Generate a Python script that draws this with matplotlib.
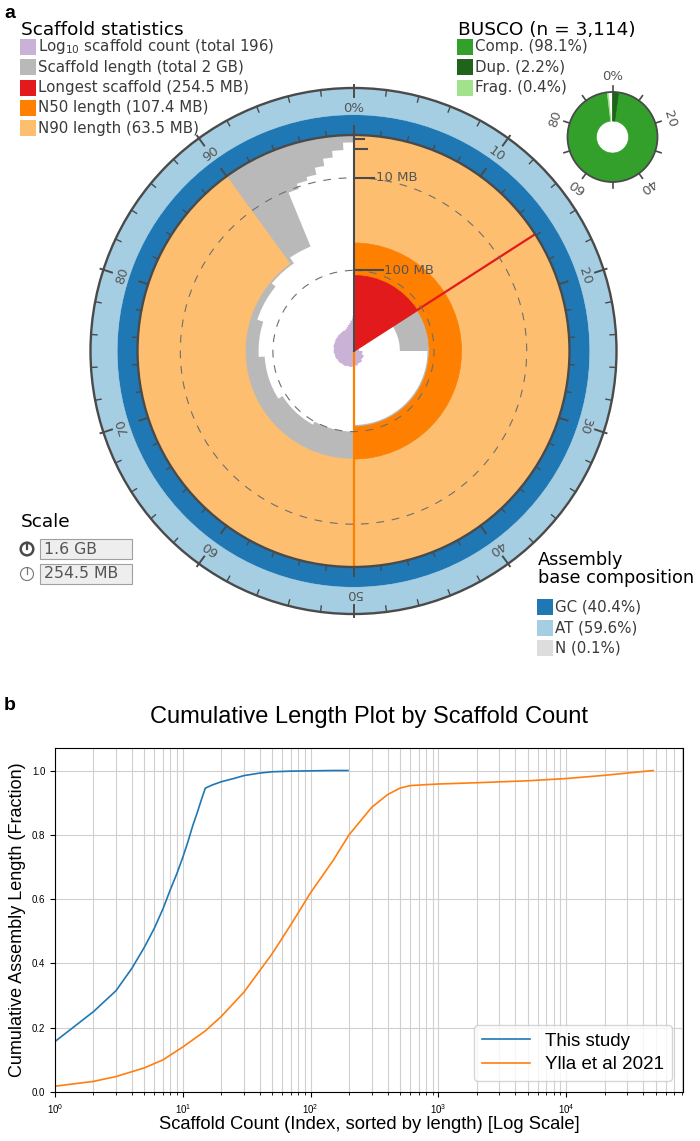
import numpy as np
import matplotlib
matplotlib.use('Agg')
import matplotlib.pyplot as plt
from matplotlib.patches import Wedge, Circle, Rectangle, Polygon

#DATA - panel a (snail plot)
spanGb = 1.6
scaffoldCount = 196
longestMb = 254.5
n50Mb = 107.4
n90Mb = 63.5
gcPct = 40.4
atPct = 59.6
nPct = 0.1

# sorted scaffold lengths round the circle: step start (% of assembly) and length (MB)
lenStepPct = [0, 15.9, 25.0, 50.0, 58.0, 66.0, 74.0, 80.0, 86.0, 90.5, 93.8, 94.8, 95.8, 96.7, 97.5, 98.3, 99.2]
lenStepMb = [254.5, 157.0, 110.0, 100.0, 95.0, 88.0, 80.0, 72.0, 66.0, 58.0, 11.0, 8.5, 7.0, 4.5, 2.5, 1.2, 0.3]

axisTickMb = [100, 10, 1, 0.1]
axisTickLabels = ['100 MB', '10 MB', '', '']
ringTicks = [0, 10, 20, 30, 40, 50, 60, 70, 80, 90]

buscoN = 3114
buscoComp = 98.1
buscoDup = 2.2
buscoFrag = 0.4

#DATA - panel b (cumulative length)
thisN = [1, 2, 3, 4, 5, 6, 7, 8, 9, 10, 11, 12, 13, 14, 15, 17, 20, 25, 30, 40, 50, 70, 100, 150, 196]
thisFrac = [0.157, 0.25, 0.315, 0.385, 0.45, 0.51, 0.57, 0.63, 0.68, 0.73, 0.78, 0.83, 0.87, 0.91, 0.945,
            0.955, 0.965, 0.975, 0.984, 0.992, 0.996, 0.998, 0.999, 1.0, 1.0]
yllaN = [1, 2, 3, 5, 7, 10, 15, 20, 30, 50, 70, 100, 150, 200, 300, 400, 500, 600, 800, 1000,
         2000, 5000, 10000, 20000, 30000, 47877]
yllaFrac = [0.018, 0.033, 0.048, 0.075, 0.10, 0.14, 0.19, 0.235, 0.31, 0.43, 0.52, 0.62, 0.72, 0.80,
            0.885, 0.925, 0.945, 0.953, 0.956, 0.958, 0.962, 0.968, 0.975, 0.985, 0.992, 1.0]

#COLOURS
cGray = '#b9b9b9'
cRed = '#e31a1c'
cN50 = '#ff7f00'
cN90 = '#fdbf6f'
cCount = '#cab2d6'
cGC = '#1f78b4'
cAT = '#a6cee3'
cN = '#dddddd'
cComp = '#33a02c'
cDup = '#20641c'
cFrag = '#a3e28c'
cLine = '#4a4a4a'
cText = '#555555'

plt.rcParams['font.family'] = ['DejaVu Sans']

W, H = 700, 1141
fig = plt.figure(figsize=(W / 100, H / 100), dpi=100)

# pixel frame for panel a (y grows downwards)
ax = fig.add_axes([0, 0, 1, 1])
ax.set_xlim(0, W)
ax.set_ylim(H, 0)
ax.axis('off')

CX, CY = 353.5, 351.0
R_IN, R_OUT = 216.0, 263.0


def rho(mb):
	# inverted sqrt radial scale, longest scaffold at the centre
	return R_IN * (1 - np.sqrt(mb / longestMb))


def ang(p):
	# percent -> wedge angle (clockwise from top, y axis inverted)
	return 3.6 * p - 90


def pt(p, r, cx=CX, cy=CY):
	a = np.radians(3.6 * p)
	return cx + r * np.sin(a), cy - r * np.cos(a)


def wedge(r, p1, p2, color, width=None, z=2, cx=CX, cy=CY):
	w = Wedge((cx, cy), r, ang(p1), ang(p2), width=width, fc=color, ec=color, lw=0.4, zorder=z)
	ax.add_patch(w)


def stepPoly(starts, ends, radii, color, z):
	# one polygon for a stepped radial profile (no seams between steps)
	pts = [(CX, CY)]
	for p1, p2, r in zip(starts, ends, radii):
		for p in np.linspace(p1, p2, int((p2 - p1) * 3) + 2):
			pts.append(pt(p, r))
	pts.append((CX, CY))
	ax.add_patch(Polygon(pts, closed=True, fc=color, ec='none', zorder=z))


# scaffold length background and white interior
wedge(R_IN, 0, 100, cGray, z=1)
stepEnds = lenStepPct[1:] + [100]
stepPoly(lenStepPct, stepEnds, [rho(v) for v in lenStepMb], 'white', 2)

# N90 / N50 / longest
longPct = 100 * longestMb / (spanGb * 1000)
wedge(R_IN, 0, 90, cN90, width=R_IN - rho(n90Mb), z=3)
wedge(rho(n90Mb), 0, 50, cN50, width=rho(n90Mb) - rho(n50Mb), z=3)

# log10 scaffold count spiral
cntStart = [0] + [100 * f for f in thisFrac[:-1]]
cntEnd = [100 * f for f in thisFrac]
stepPoly(cntStart, cntEnd, [19 * np.log10(n) for n in thisN], cCount, 4)

wedge(rho(n50Mb), 0, longPct, cRed, z=5)

# radial marker lines
for p, c in [(longPct, cRed), (50, cN50)]:
	x0, y0 = pt(p, 0)
	x1, y1 = pt(p, R_IN)
	ax.plot([x0, x1], [y0, y1], color=c, lw=1.6, zorder=6, solid_capstyle='butt')

# dashed length gridlines
for mb in [10, 100]:
	ax.add_patch(Circle((CX, CY), rho(mb), fill=False, ec='#6e6e6e', lw=0.8,
	                    ls=(0, (7, 7)), zorder=7))

# composition ring
gcW = (R_OUT - R_IN) * gcPct / 100
atW = (R_OUT - R_IN) * atPct / 100
wedge(R_IN + gcW + 1.5, 0, 100, cGC, width=gcW + 1.5, z=3)
wedge(R_OUT, 0, 100, cAT, width=atW - 1.3, z=3)

for r in [R_IN, R_OUT]:
	ax.add_patch(Circle((CX, CY), r, fill=False, ec=cLine, lw=1.7, zorder=8))

# ring ticks every 2 %, major every 10 %
for p in np.arange(0, 100, 2):
	major = p % 10 == 0
	a0, a1 = (R_OUT - 9, R_OUT + 3) if major else (R_OUT - 6, R_OUT)
	x0, y0 = pt(p, a0)
	x1, y1 = pt(p, a1)
	ax.plot([x0, x1], [y0, y1], color=cLine, lw=1.4 if major else 1.0, zorder=8)
	b1 = R_IN + 9 if major else R_IN + 5
	x0, y0 = pt(p, R_IN)
	x1, y1 = pt(p, b1)
	ax.plot([x0, x1], [y0, y1], color=cLine, lw=1.4 if major else 1.0, zorder=8)

for p in ringTicks:
	x, y = pt(p, 243)
	ax.text(x, y, '0%' if p == 0 else str(p), rotation=-3.6 * p, ha='center', va='center',
	        fontsize=9.5, color=cText, zorder=9, rotation_mode='anchor')

# length axis along 0 %
ax.plot([CX, CX], [CY, CY - R_IN], color=cLine, lw=1.5, zorder=9)
tickLen = {100: 29, 10: 20, 1: 13, 0.1: 10}
for mb, lab in zip(axisTickMb, axisTickLabels):
	y = CY - rho(mb)
	ax.plot([CX, CX + tickLen[mb]], [y, y], color=cLine, lw=1.5, zorder=9)
	if lab:
		ax.text(CX + tickLen[mb] + 2, y, lab, ha='left', va='center', fontsize=9.5, color=cText, zorder=9)

# BUSCO ring
BX, BY, BR, BH = 612.5, 137.0, 45.0, 16.0
wedge(BR, 0, buscoComp, cComp, width=BR - BH, cx=BX, cy=BY)
wedge(BR, 0, buscoDup, cDup, width=BR - BH, z=3, cx=BX, cy=BY)
wedge(BR, buscoComp, buscoComp + buscoFrag, cFrag, width=BR - BH, z=3, cx=BX, cy=BY)
ax.add_patch(Circle((BX, BY), BR, fill=False, ec=cLine, lw=1.3, zorder=8))
for p in range(0, 100, 10):
	x0, y0 = pt(p, BR, BX, BY)
	x1, y1 = pt(p, BR + 6, BX, BY)
	ax.plot([x0, x1], [y0, y1], color=cLine, lw=1.2, zorder=8)
for p in [0, 20, 40, 60, 80]:
	x, y = pt(p, 60, BX, BY)
	ax.text(x, y, '0%' if p == 0 else str(p), rotation=-3.6 * p, ha='center', va='center',
	        fontsize=9.5, color=cText, rotation_mode='anchor')

# legends
def legendBlock(x, y, title, entries, step=20.3, titleLines=1, titleSize=13.3):
	ax.text(x + 1, y, title, ha='left', va='center', fontsize=titleSize, color='black', linespacing=1.05)
	y0 = y + 17 + (titleLines - 1) * 21
	for i, (lab, col) in enumerate(entries):
		yy = y0 + i * step
		ax.add_patch(Rectangle((x, yy - 8), 16, 16, fc=col, ec='none'))
		ax.text(x + 18, yy, lab, ha='left', va='center', fontsize=10.8, color='#3a3a3a')

legendBlock(20, 30, 'Scaffold statistics', [
	('Log$_{10}$ scaffold count (total %d)' % scaffoldCount, cCount),
	('Scaffold length (total 2 GB)', cGray),
	('Longest scaffold (%.1f MB)' % longestMb, cRed),
	('N50 length (%.1f MB)' % n50Mb, cN50),
	('N90 length (%.1f MB)' % n90Mb, cN90)])

legendBlock(457, 30, 'BUSCO (n = {:,})'.format(buscoN), [
	('Comp. (%.1f%%)' % buscoComp, cComp),
	('Dup. (%.1f%%)' % buscoDup, cDup),
	('Frag. (%.1f%%)' % buscoFrag, cFrag)])

legendBlock(537, 569, 'Assembly\nbase composition', [
	('GC (%.1f%%)' % gcPct, cGC),
	('AT (%.1f%%)' % atPct, cAT),
	('N (%.1f%%)' % nPct, cN)], step=20.7, titleLines=2, titleSize=12.8)

# scale box
ax.text(21, 522, 'Scale', ha='left', va='center', fontsize=13.3, color='black')
for yy, lab, thick in [(549, '%.1f GB' % spanGb, True), (574, '%.1f MB' % longestMb, False)]:
	ax.add_patch(Rectangle((40, yy - 10), 92, 20, fc='#eeeeee', ec='#a0a0a0', lw=0.8))
	ax.text(44, yy, lab, ha='left', va='center', fontsize=11.3, color=cText)
	if thick:
		ax.add_patch(Circle((27, yy), 6.3, fill=False, ec=cLine, lw=1.8))
		ax.plot([27, 27], [yy - 6, yy], color=cLine, lw=1.6)
	else:
		ax.add_patch(Circle((27, yy), 6.5, fill=False, ec='#777777', lw=0.8))
		ax.plot([27, 27], [yy - 6.5, yy], color='#777777', lw=0.9)

fa = ['Liberation Sans', 'DejaVu Sans']
ax.text(4, 13, 'a', ha='left', va='center', fontsize=14, fontweight='bold', family=fa)
ax.text(4, 705, 'b', ha='left', va='center', fontsize=14, fontweight='bold', family=fa)

#PANEL B
fb = ['Liberation Sans', 'DejaVu Sans']
axb = fig.add_axes([55 / W, 1 - 1092 / H, 628 / W, 344 / H])
axb.plot(thisN, thisFrac, color='#1f77b4', lw=1.2, label='This study')
axb.plot(yllaN, yllaFrac, color='#ff7f0e', lw=1.2, label='Ylla et al 2021')
axb.set_xscale('log')
axb.set_xlim(left=1)
axb.set_ylim(0, 1.07)
axb.set_yticks([0, 0.2, 0.4, 0.6, 0.8, 1.0])
axb.grid(True, which='both', color='#d0d0d0', lw=0.8)
axb.tick_params(labelsize=7)
for t in axb.get_xticklabels() + axb.get_yticklabels():
	t.set_family(fb)
axb.set_title('Cumulative Length Plot by Scaffold Count', fontsize=17, family=fb, pad=18)
axb.set_xlabel('Scaffold Count (Index, sorted by length) [Log Scale]', fontsize=13.2, family=fb, labelpad=0)
axb.set_ylabel('Cumulative Assembly Length (Fraction)', fontsize=13, family=fb)
axb.legend(loc='lower right', prop={'family': fb, 'size': 13.5}, handlelength=2.6,
           labelspacing=0.35, borderaxespad=0.6)

fig.savefig('out.png', dpi=100)
